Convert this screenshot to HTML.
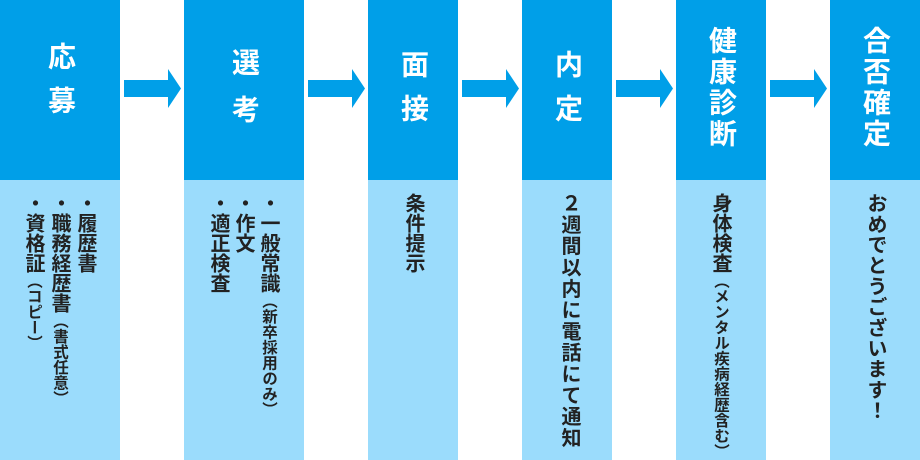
<!DOCTYPE html>
<html><head><meta charset="utf-8"><style>
body{margin:0;width:920px;height:460px;background:#fff;position:relative;overflow:hidden;font-family:"Liberation Sans","Noto Sans CJK JP",sans-serif;}
.c{position:absolute;top:0;height:460px;}
.t{position:absolute;left:0;right:0;top:0;height:180px;background:#009fe8;}
.b{position:absolute;left:0;right:0;top:180px;height:280px;background:#9bdcfc;}
.h{position:absolute;left:0;right:0;writing-mode:vertical-rl;color:#fff;font-weight:bold;font-size:28px;line-height:28px;margin:0 auto;width:28px;}
.v{position:absolute;top:193px;writing-mode:vertical-rl;color:#222;font-weight:bold;font-size:20px;line-height:25px;white-space:nowrap;}
.v small{font-size:15.5px;}
.ar{position:absolute;top:69px;width:58px;height:39px;}
</style></head><body>
<div class="c" style="left:0;width:120px"><div class="t"></div><div class="b"></div>
<div class="h" style="top:42px;letter-spacing:16px">応募</div>
<div class="v" style="right:23px">・履歴書<br>・職務経歴書<small>（書式任意）</small><br>・資格証<small>（コピー）</small></div></div>

<div class="c" style="left:184px;width:120px"><div class="t"></div><div class="b"></div>
<div class="h" style="top:48px;letter-spacing:19px">選考</div>
<div class="v" style="right:23px">・一般常識<small>（新卒採用のみ）</small><br>・作文<br>・適正検査</div></div>

<div class="c" style="left:368px;width:90px"><div class="t"></div><div class="b"></div>
<div class="h" style="top:50px;letter-spacing:16px">面接</div>
<div class="v" style="right:33px">条件提示</div></div>

<div class="c" style="left:522px;width:90px"><div class="t"></div><div class="b"></div>
<div class="h" style="top:50px;letter-spacing:16px">内定</div>
<div class="v" style="right:33px;line-height:20px;letter-spacing:1.3px">２週間以内に電話にて通知</div></div>

<div class="c" style="left:676px;width:90px"><div class="t"></div><div class="b"></div>
<div class="h" style="top:26px;letter-spacing:3px">健康診断</div>
<div class="v" style="right:33px">身体検査<small>（メンタル疾病経歴含む）</small></div></div>

<div class="c" style="left:830px;width:90px"><div class="t"></div><div class="b"></div>
<div class="h" style="top:26px;letter-spacing:3px">合否確定</div>
<div class="v" style="right:33px;letter-spacing:0.7px">おめでとうございます！</div></div>

<svg class="ar" style="left:124px" viewBox="0 0 58 39"><polygon points="0,11 44,11 44,0 57,19.5 44,39 44,28 0,28" fill="#009fe8"/></svg>
<svg class="ar" style="left:308px" viewBox="0 0 58 39"><polygon points="0,11 44,11 44,0 57,19.5 44,39 44,28 0,28" fill="#009fe8"/></svg>
<svg class="ar" style="left:462px" viewBox="0 0 58 39"><polygon points="0,11 44,11 44,0 57,19.5 44,39 44,28 0,28" fill="#009fe8"/></svg>
<svg class="ar" style="left:616px" viewBox="0 0 58 39"><polygon points="0,11 44,11 44,0 57,19.5 44,39 44,28 0,28" fill="#009fe8"/></svg>
<svg class="ar" style="left:770px" viewBox="0 0 58 39"><polygon points="0,11 44,11 44,0 57,19.5 44,39 44,28 0,28" fill="#009fe8"/></svg>
</body></html>
